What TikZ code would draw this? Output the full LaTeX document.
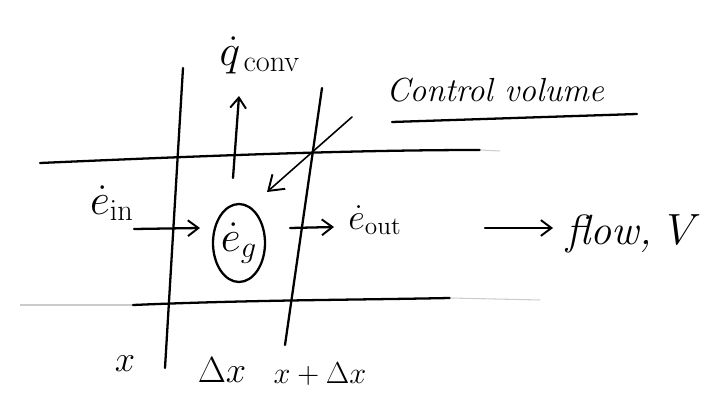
\documentclass[tikz,border=0pt]{standalone}
\usetikzlibrary{arrows.meta,shapes.geometric}
\begin{document}
\begin{tikzpicture}[x=0.02cm,y=-0.02cm,
  pen/.style={line width=1.3pt,line cap=round},
  thinpen/.style={line width=0.9pt,line cap=round},
  faint/.style={line width=0.6pt,gray!40},
  arr/.style={pen,-{Straight Barb[length=6pt,width=9pt,line width=1.1pt]}},
  lbl/.style={font=\fontsize{21}{24}\selectfont,inner sep=0pt},
  big/.style={font=\fontsize{25}{28}\selectfont,inner sep=0pt},
  small/.style={font=\fontsize{18}{21}\selectfont,inner sep=0pt},
  hand/.style={font=\fontsize{19}{22}\selectfont\itshape,inner sep=0pt}]
\useasboundingbox (0,0) rectangle (726,394);
% channel walls
\coordinate (tl) at (40,163);
\coordinate (tr) at (480,150);
\draw[pen] (tl) .. controls (200,156) and (350,150) .. (tr);
\draw[faint] (tr) -- (500,151);
\coordinate (bl) at (133,305);
\coordinate (br) at (450,298);
\draw[faint] (20,305) -- (bl);
\draw[pen] (bl) .. controls (250,300) and (350,300) .. (br);
\draw[faint] (br) -- (540,300);
% control volume boundaries
\coordinate (lt) at (183,68);
\coordinate (lb) at (165,368);
\draw[pen] (lt) -- (lb);
\coordinate (rt) at (322,88);
\coordinate (rb) at (285,345);
\draw[pen] (rt) -- (rb);
% heat convection arrow
\coordinate (qs) at (233,178);
\coordinate (qe) at (239,96);
\draw[arr] (qs) -- (qe);
\node[big] (qconv) at (260,55) {$\dot q_{\,\mathrm{conv}}$};
% control volume label
\node[hand,anchor=base west] (cv) at (386,102) {Control volume};
\coordinate (ul) at (392,122);
\coordinate (ur) at (637,114);
\draw[pen] (ul) -- (ur);
\coordinate (ps) at (352,117);
\coordinate (pe) at (267,192);
\draw[thinpen,-{Straight Barb[length=8pt,width=11pt,line width=1.1pt]}] (ps) -- (pe);
% energy in
\node[big] (ein) at (112,203) {$\dot e_{\mathrm{in}}$};
\coordinate (eis) at (134,229);
\coordinate (eie) at (200,228);
\draw[arr] (eis) -- (eie);
% generation
\node[draw,pen,ellipse,minimum width=1.04cm,minimum height=1.56cm,inner sep=0pt,
  font=\fontsize{25}{28}\selectfont] (eg) at (239,243) {$\dot e_{g}$};
% energy out
\coordinate (eos) at (290,228);
\coordinate (eoe) at (334,227);
\draw[arr] (eos) -- (eoe);
\node[lbl,anchor=west] (eout) at (348,220) {$\dot e_{\mathrm{out}}$};
% flow
\coordinate (fs) at (485,228);
\coordinate (fe) at (553,228);
\draw[arr] (fs) -- (fe);
\node[hand,font=\fontsize{24}{28}\selectfont\itshape,anchor=west] (flow) at (566,234) {flow, $V$};
% axis labels
\node[lbl] (xl) at (125,364) {$x$};
\node[lbl] (dx) at (222,370) {$\Delta x$};
\node[small] (xdx) at (320,374) {$x+\Delta x$};
\end{tikzpicture}
\end{document}
